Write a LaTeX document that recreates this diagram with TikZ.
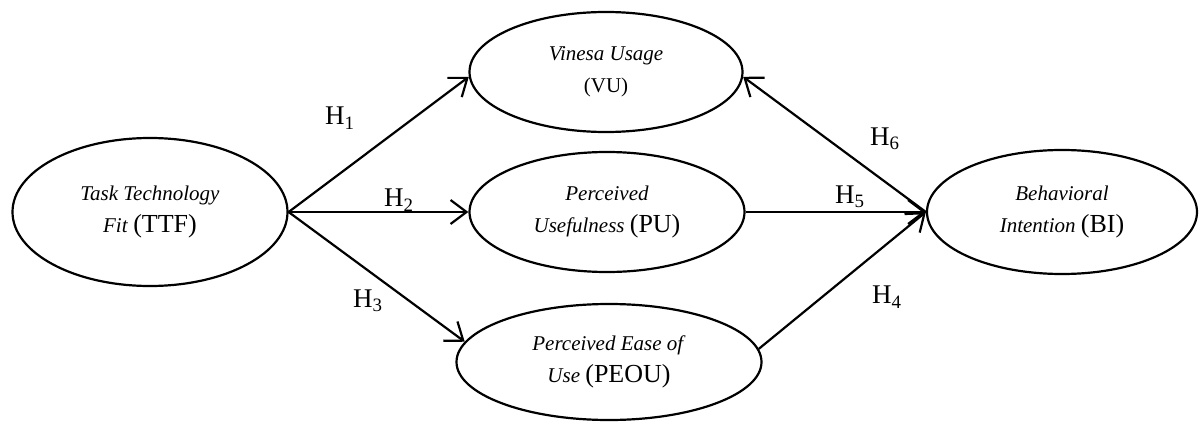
\documentclass[tikz,border=0pt]{standalone}
\usepackage{fontspec}
\setmainfont{Liberation Serif}
\usetikzlibrary{shapes.geometric,arrows.meta}
\tikzset{
  construct/.style={draw=black, line width=1.1pt, ellipse, inner sep=0pt, fill=white},
  label/.style={inner sep=0pt, align=center, font=\fontsize{10.5}{16}\selectfont},
  hyp/.style={inner sep=0pt, font=\fontsize{13.5}{15}\selectfont},
  path/.style={draw=black, line width=1.1pt, -{Straight Barb[length=8pt,width=12pt,line width=1.1pt]}}
}
\newcommand{\bigtxt}[1]{{\fontsize{13}{16}\selectfont #1}}
\begin{document}
\begin{tikzpicture}[x=0.5pt,y=-0.5pt]
\useasboundingbox (0,0) rectangle (1200,423);
\node[construct, minimum width=137.5pt, minimum height=74pt] (TTF) at (150,212) {};
\node[construct, minimum width=136.5pt, minimum height=60pt] (VU) at (606,72) {};
\node[construct, minimum width=137.5pt, minimum height=60pt] (PU) at (607,212) {};
\node[construct, minimum width=152.5pt, minimum height=58pt] (PEOU) at (609,362) {};
\node[construct, minimum width=135pt, minimum height=62pt] (BI) at (1062,212) {};

\node[label] (tTTF) at (TTF.center) {\textit{Task Technology}\\\textit{Fit} \bigtxt{(TTF)}};
\node[label] (tVU) at (VU.center) {\textit{Vinesa Usage}\\(VU)};
\node[label] (tPU) at (PU.center) {\textit{Perceived}\\\textit{Usefulness} \bigtxt{(PU)}};
\node[label] (tPEOU) at (PEOU.center) {\textit{Perceived Ease of}\\\textit{Use} \bigtxt{(PEOU)}};
\node[label] (tBI) at (BI.center) {\textit{Behavioral}\\\textit{Intention} \bigtxt{(BI)}};

\draw[path] (TTF.east) -- (VU.182);
\draw[path] (TTF.east) -- (PU.west);
\draw[path] (TTF.east) -- (PEOU.172);
\draw[path] (PU.east) -- (BI.west);
\draw[path] (PEOU.5) -- (BI.west);
\draw[path] (BI.west) -- (VU.-2);

\node[hyp] (h1) at (340,118) {H\textsubscript{1}};
\node[hyp] (h2) at (399,200) {H\textsubscript{2}};
\node[hyp] (h3) at (368,301) {H\textsubscript{3}};
\node[hyp] (h4) at (887,297) {H\textsubscript{4}};
\node[hyp] (h5) at (850,197) {H\textsubscript{5}};
\node[hyp] (h6) at (885,139) {H\textsubscript{6}};
\end{tikzpicture}
\end{document}
